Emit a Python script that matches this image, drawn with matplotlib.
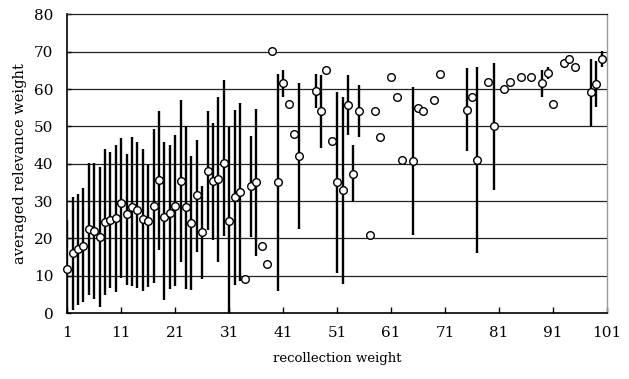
import matplotlib
matplotlib.use("Agg")
import matplotlib.pyplot as plt
import numpy as np

# recollection weight (x) and averaged relevance weight (y), with the
# low / high ends of the vertical bars (None where a point has no bar)
recall = [1, 2, 3, 4, 5, 6, 7, 8, 9, 10,
          11, 12, 13, 14, 15, 16, 17, 18, 19, 20,
          21, 22, 23, 24, 25, 26, 27, 28, 29, 30,
          31, 32, 33, 34, 35, 36, 37, 38, 39, 40,
          41, 42, 43, 44, 47, 48, 49, 50, 51, 52,
          53, 54, 55, 57, 58, 59, 61, 62, 63, 65,
          66, 67, 69, 70, 75, 76, 77, 79, 80, 82,
          83, 85, 87, 89, 90, 91, 93, 94, 95, 98,
          99, 100]
relevance = [11.8, 16.0, 17.1, 18.0, 22.4, 22.0, 20.3, 24.4, 24.9, 25.4,
             29.4, 26.5, 28.3, 27.6, 25.1, 24.7, 28.7, 35.7, 25.7, 26.9,
             28.7, 35.5, 28.5, 24.2, 31.5, 21.6, 38.1, 35.3, 35.8, 40.3,
             24.7, 31.1, 32.5, 9.0, 34.1, 35.1, 18.0, 13.1, 70.1, 35.1,
             61.6, 56.0, 48.0, 42.1, 59.6, 54.1, 65.1, 46.0, 35.0, 33.0,
             55.8, 37.3, 54.1, 21.0, 54.1, 47.1, 63.1, 58.0, 41.0, 40.8,
             55.0, 54.1, 57.0, 64.1, 54.5, 58.0, 41.0, 62.0, 50.1, 60.0,
             62.0, 63.1, 63.1, 61.6, 64.4, 56.0, 67.0, 68.1, 66.0, 59.1,
             61.4, 68.1]
bar_low = [0.0, 0.8, 2.1, 3.0, 4.8, 3.8, 1.7, 4.8, 6.6, 5.7,
           9.5, 7.5, 7.3, 6.6, 5.9, 7.1, 8.0, 16.9, 3.5, 6.4,
           7.2, 13.8, 6.4, 6.2, 16.4, 9.0, 22.3, 19.6, 13.8, 20.6,
           0.0, 7.5, 8.6, None, 20.5, 15.3, None, None, None, 5.9,
           58.0, None, None, 22.4, 54.9, 44.3, None, None, 10.8, 7.8,
           47.7, 29.7, 47.1, None, None, None, None, None, None, 20.9,
           None, None, None, None, 43.4, None, 16.0, None, 33.0, None,
           None, None, None, 58.0, 62.6, None, None, None, None, 50.0,
           55.1, 66.0]
bar_high = [25.0, 31.2, 31.8, 33.6, 40.1, 40.1, 39.2, 44.0, 43.2, 44.9,
            46.8, 42.5, 47.1, 45.9, 44.0, 39.9, 49.3, 54.2, 45.7, 44.9,
            47.7, 57.1, 50.1, 42.2, 46.4, 34.0, 54.0, 51.0, 57.8, 62.5,
            49.8, 54.4, 56.4, None, 47.5, 54.7, None, None, None, 64.1,
            65.1, None, None, 61.6, 64.1, 63.7, None, None, 59.1, 58.0,
            63.8, 45.0, 61.0, None, None, None, None, None, None, 60.5,
            None, None, None, None, 65.6, None, 66.0, None, 67.1, None,
            None, None, None, 65.0, 66.0, None, None, None, None, 68.0,
            67.5, 70.1]

x_ticks = [1, 11, 21, 31, 41, 51, 61, 71, 81, 91, 101]

plt.rcParams['font.family'] = ['DejaVu Serif']

fig = plt.figure(figsize=(6.29, 3.79), dpi=100)
ax = fig.add_axes([0.107, 0.174, 0.858, 0.788])

# gridlines behind everything
for yv in range(10, 80, 10):
    ax.axhline(yv, color="#222222", linewidth=0.9, zorder=1)

# vertical bars
has_bar = [i for i in range(len(recall)) if bar_low[i] is not None]
ax.vlines([recall[i] for i in has_bar],
          [bar_low[i] for i in has_bar],
          [bar_high[i] for i in has_bar],
          color="black", linewidth=1.7, zorder=2)

# points
ax.plot(recall, relevance, linestyle="none", marker="o", markersize=5.5,
        markerfacecolor="white", markeredgecolor="black",
        markeredgewidth=1.0, zorder=3, clip_on=False)

ax.set_xlim(1, 101)
ax.set_ylim(0, 80)
ax.set_xticks(x_ticks)
ax.set_yticks(range(0, 90, 10))
ax.tick_params(axis="x", direction="in", length=4, width=1, labelsize=11, pad=9)
ax.tick_params(axis="y", direction="in", length=3, width=1, labelsize=11, pad=10)

ax.spines["left"].set_linewidth(1.2)
ax.spines["bottom"].set_linewidth(1.2)
ax.spines["top"].set_color("#222222")
ax.spines["top"].set_linewidth(0.9)
ax.spines["right"].set_color("#999999")
ax.spines["right"].set_linewidth(1.0)

ax.set_xlabel("recollection weight", fontsize=9.5, labelpad=9)
ax.set_ylabel("averaged relevance weight", fontsize=10.5, labelpad=5)

fig.savefig("out.png", dpi=100)
